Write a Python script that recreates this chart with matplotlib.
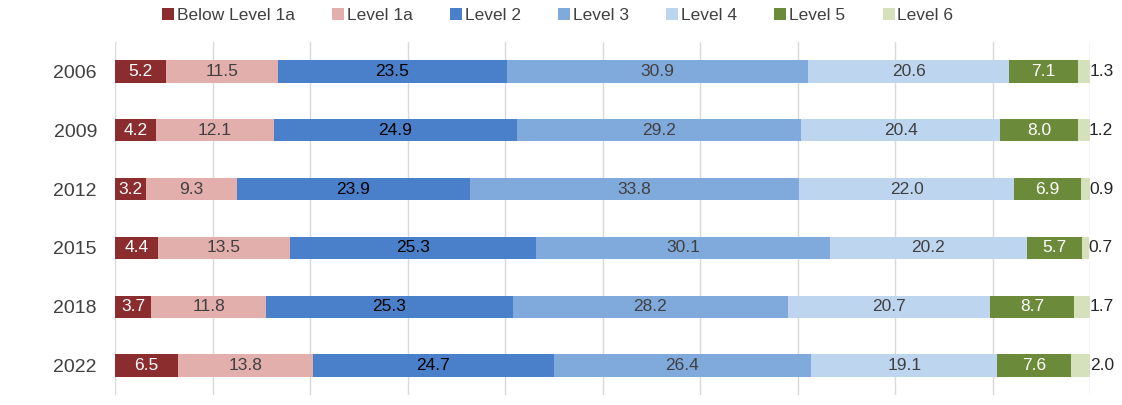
import matplotlib
matplotlib.use("Agg")
import numpy as np
import matplotlib.pyplot as plt

plt.rcParams['font.family'] = ['Liberation Sans', 'DejaVu Sans']

# data
years = ["2006", "2009", "2012", "2015", "2018", "2022"]
levels = ["Below Level 1a", "Level 1a", "Level 2", "Level 3", "Level 4", "Level 5", "Level 6"]
below1a = [5.2, 4.2, 3.2, 4.4, 3.7, 6.5]
level1a = [11.5, 12.1, 9.3, 13.5, 11.8, 13.8]
level2 = [23.5, 24.9, 23.9, 25.3, 25.3, 24.7]
level3 = [30.9, 29.2, 33.8, 30.1, 28.2, 26.4]
level4 = [20.6, 20.4, 22.0, 20.2, 20.7, 19.1]
level5 = [7.1, 8.0, 6.9, 5.7, 8.7, 7.6]
level6 = [1.3, 1.2, 0.9, 0.7, 1.7, 2.0]

series = [below1a, level1a, level2, level3, level4, level5, level6]
colors = ["#8B2D2F", "#E2AFAD", "#4A7FCA", "#80A9DC", "#BDD5EE", "#6B8A3A", "#D4E1BA"]
txtcol = ["white", "#404040", "black", "#404040", "#404040", "white", "#262626"]

fig = plt.figure(figsize=(11.22, 4.05), dpi=100)
ax = fig.add_axes([0.1025, 0.025, 0.869, 0.871])

y = np.arange(len(years))
left = np.zeros(len(years))
for i, (vals, name) in enumerate(zip(series, levels)):
    vals = np.array(vals)
    ax.barh(y, vals, left=left, height=0.38, color=colors[i], label=name, zorder=3)
    for j in range(len(years)):
        if i == len(series) - 1:
            ax.text(left[j] + vals[j] - 0.1, y[j], f"{vals[j]:.1f}", ha='left', va='center',
                    fontsize=12.5, color=txtcol[i], zorder=4)
        else:
            ax.text(left[j] + vals[j] / 2, y[j], f"{vals[j]:.1f}", ha='center', va='center',
                    fontsize=12.5, color=txtcol[i], zorder=4)
    left = left + vals

ax.set_xlim(0, 100)
ax.set_ylim(len(years) - 0.5, -0.5)
ax.set_xticks(np.arange(0, 101, 10))
ax.set_xticklabels([])
ax.tick_params(axis='x', length=0)
ax.tick_params(axis='y', length=0, pad=13, labelsize=14, labelcolor="#404040")
ax.set_yticks(y)
ax.set_yticklabels(years)
ax.grid(axis='x', color="#D9D9D9", linewidth=1, zorder=0)
for s in ax.spines.values():
    s.set_visible(False)

fig.legend(loc='upper center', bbox_to_anchor=(0.497, 1.02), ncol=7, frameon=False,
           handlelength=0.7, handleheight=0.7, handletextpad=0.15, columnspacing=2.15,
           fontsize=12.5, labelcolor="#404040")

fig.savefig("out.png", dpi=100)
